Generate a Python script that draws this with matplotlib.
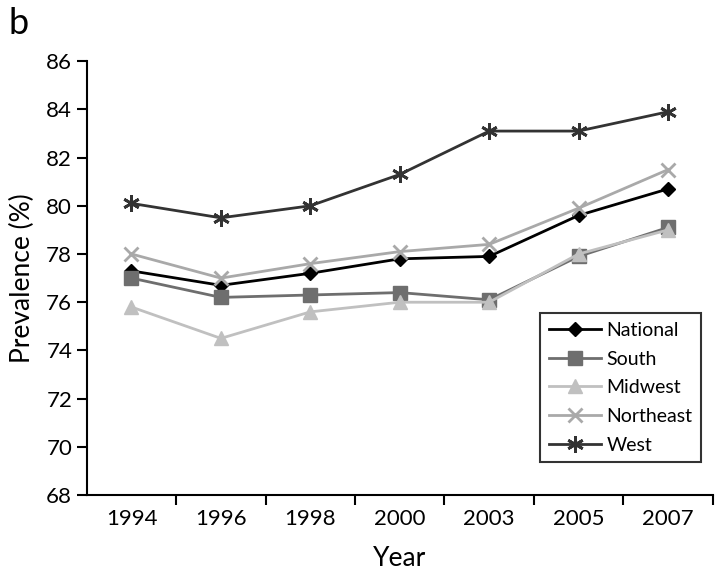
import numpy as np
import matplotlib.pyplot as plt

plt.rcParams['font.family'] = ['Lato', 'DejaVu Sans']

years = ['1994', '1996', '1998', '2000', '2003', '2005', '2007']
national = [77.3, 76.7, 77.2, 77.8, 77.9, 79.6, 80.7]
south = [77.0, 76.2, 76.3, 76.4, 76.1, 77.9, 79.1]
midwest = [75.8, 74.5, 75.6, 76.0, 76.0, 78.0, 79.0]
northeast = [78.0, 77.0, 77.6, 78.1, 78.4, 79.9, 81.5]
west = [80.1, 79.5, 80.0, 81.3, 83.1, 83.1, 83.9]

fig = plt.figure(figsize=(7.17, 5.77), dpi=100)
ax = fig.add_axes([0.121, 0.142, 0.873, 0.752])

x = np.arange(len(years))
ax.plot(x, national, color='black', lw=2, marker='D', ms=7, label='National')
ax.plot(x, south, color='#6e6e6e', lw=2, marker='s', ms=10, label='South')
ax.plot(x, midwest, color='#c0c0c0', lw=2, marker='^', ms=10, label='Midwest')
ax.plot(x, northeast, color='#a9a9a9', lw=2, marker='x', ms=10, mew=2, label='Northeast')
ax.plot(x, west, color='#333333', lw=2, marker=(6, 2, 0), ms=12, mew=2, label='West')

ax.set_xlim(-0.5, len(years) - 0.5)
ax.set_ylim(68, 86)
ax.set_yticks(np.arange(68, 87, 2))
ax.set_xticks(x)
ax.set_xticklabels(years)
ax.set_xticks(np.arange(0.5, len(years), 1), minor=True)
ax.tick_params(axis='x', which='major', length=0, pad=10, labelsize=16)
ax.tick_params(axis='x', which='minor', length=7, width=1.5, direction='out')
ax.tick_params(axis='y', length=7, width=1.5, labelsize=16, direction='out')

for s in ['top', 'right']:
    ax.spines[s].set_visible(False)
ax.spines['left'].set_linewidth(1.5)
ax.spines['bottom'].set_linewidth(1.5)

ax.set_xlabel('Year', fontsize=19, labelpad=12)
ax.set_ylabel('Prevalence (%)', fontsize=19, labelpad=8)

leg = ax.legend(loc='lower right', bbox_to_anchor=(0.997, 0.053), fontsize=14,
                frameon=True, fancybox=False, edgecolor='black',
                handlelength=2.7, borderpad=0.45, labelspacing=0.6, handletextpad=0.25)
leg.get_frame().set_linewidth(1.5)

fig.text(0.012, 0.96, 'b', fontsize=26, va='center')

fig.savefig('out.png', dpi=100)
